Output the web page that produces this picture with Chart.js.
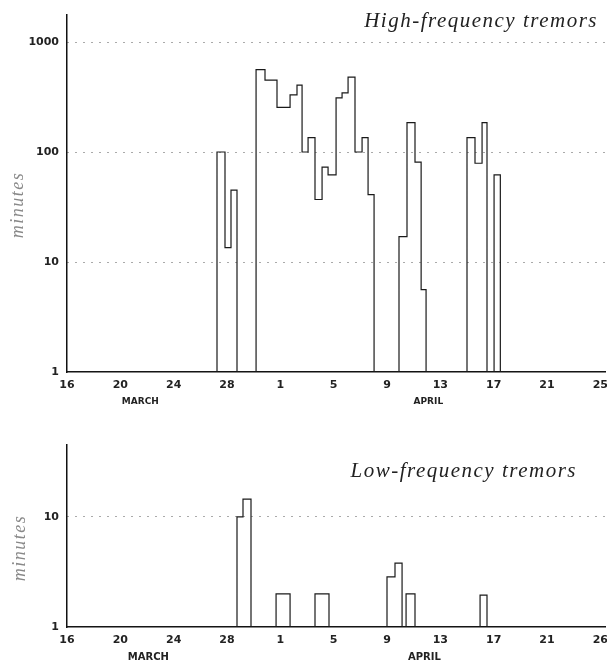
<!DOCTYPE html>
<html>
<head>
<meta charset="utf-8">
<script src="https://cdn.jsdelivr.net/npm/chart.js@4/dist/chart.umd.min.js"></script>
<style>
  html, body { margin: 0; padding: 0; background: #fff; }
  #wrap { position: relative; width: 607px; height: 666px; }
  canvas { position: absolute; left: 0; }
  #highChart { top: 0; }
  #lowChart { top: 415px; }
</style>
</head>
<body>
<div id="wrap">
  <canvas id="highChart" width="607" height="415"></canvas>
  <canvas id="lowChart" width="607" height="251"></canvas>
</div>
<script>
// Days are counted from 16 March (day 0) to 25 April (day 40)
const tickDays = [0, 4, 8, 12, 16, 20, 24, 28, 32, 36, 40];
const highTickLabels = ["16", "20", "24", "28", "1", "5", "9", "13", "17", "21", "25"];
const lowTickLabels = ["16", "20", "24", "28", "1", "5", "9", "13", "17", "21", "26"];
const monthNames = ["MARCH", "APRIL"];

// High-frequency tremors: each value holds from its day until the next day
const highDays = [0, 11.25, 11.85, 12.3, 12.75, 14.18, 14.85, 15.75, 16.73, 17.25,
  17.63, 18.08, 18.6, 19.13, 19.58, 20.18, 20.63, 21.08, 21.6, 22.13,
  22.58, 23.03, 24.9, 25.5, 26.1, 26.56, 26.93, 30.0, 30.6, 31.13,
  31.5, 32.03, 32.5, 40.35];
const highMinutes = [1, 100, 13.5, 45, 1, 560, 450, 255, 330, 405,
  100, 135, 37, 73, 62, 310, 345, 480, 100, 135,
  41, 1, 17, 185, 81, 5.6, 1, 135, 79, 185,
  1, 62, 1, 1];

// Low-frequency tremors
const lowDays = [0, 12.75, 13.2, 13.8, 15.68, 16.73, 18.6, 19.65, 24.0, 24.6,
  25.13, 25.43, 26.1, 30.98, 31.5, 40.35];
const lowMinutes = [1, 10, 14.5, 1, 2, 1, 2, 1, 2.85, 3.8,
  1, 2, 1, 1.95, 1, 1];

const highYTicks = [1, 10, 100, 1000];
const lowYTicks = [1, 10];

// Titles, month names and the axis name are drawn on top of the chart
const chartNotes = {
  id: "chartNotes",
  afterDraw(chart, args, opts) {
    const { ctx, chartArea, scales } = chart;
    ctx.save();
    ctx.fillStyle = "#222";
    ctx.font = opts.monthFont;
    ctx.textAlign = "center";
    ctx.textBaseline = "middle";
    monthNames.forEach((name, i) => {
      ctx.fillText(name, scales.x.getPixelForValue(opts.monthDays[i]), chartArea.bottom + 30);
    });

    ctx.font = "italic 21px 'Liberation Serif'";
    ctx.letterSpacing = "1.5px";
    ctx.textAlign = "right";
    ctx.textBaseline = "alphabetic";
    ctx.fillText(opts.title, chartArea.right - opts.titleInset, chartArea.top + opts.titleOffset);

    ctx.translate(opts.unitX, chartArea.top + opts.unitY);
    ctx.rotate(-Math.PI / 2);
    ctx.fillStyle = "#888";
    ctx.font = "italic 18px 'Liberation Serif'";
    ctx.textAlign = "center";
    ctx.textBaseline = "middle";
    ctx.fillText("minutes", 0, 0);
    ctx.restore();
  },
};

function makeChart(canvasId, days, minutes, yMax, yTicks, tickLabels, padding, notes) {
  const ctx = document.getElementById(canvasId).getContext("2d");
  const points = days.map((d, i) => ({ x: d, y: minutes[i] }));

  return new Chart(ctx, {
    type: "line",
    data: {
      datasets: [
        {
          data: points,
          stepped: true,
          borderColor: "#1a1a1a",
          borderWidth: 1.2,
          pointRadius: 0,
          fill: false,
        },
      ],
    },
    options: {
      responsive: false,
      animation: false,
      devicePixelRatio: 1,
      layout: { padding: padding },
      plugins: {
        legend: { display: false },
        tooltip: { enabled: false },
        chartNotes: notes,
      },
      scales: {
        x: {
          type: "linear",
          min: 0,
          max: 40.35,
          afterBuildTicks: (scale) => {
            scale.ticks = tickDays.map((v) => ({ value: v }));
          },
          afterFit: (scale) => {
            scale.height = 20;
            scale.paddingLeft = 0;
            scale.paddingRight = 0;
          },
          grid: { display: false, drawTicks: false },
          border: { display: true, color: "#111", width: 1.5 },
          ticks: {
            padding: 7,
            autoSkip: false,
            maxRotation: 0,
            color: "#222",
            font: { family: "DejaVu Sans", size: 11, weight: "bold" },
            callback: (value, index) => tickLabels[index],
          },
        },
        y: {
          type: "logarithmic",
          min: 1,
          max: yMax,
          afterBuildTicks: (scale) => {
            scale.ticks = yTicks.map((v) => ({ value: v }));
          },
          afterFit: (scale) => {
            scale.width = 67;
            scale.paddingTop = 0;
            scale.paddingBottom = 0;
          },
          grid: {
            drawTicks: false,
            lineWidth: 1,
            color: (c) => (c.tick && c.tick.value === 1 ? "rgba(0,0,0,0)" : "#555"),
          },
          border: { display: true, color: "#111", width: 1.5, dash: [1, 7] },
          ticks: {
            padding: 8,
            autoSkip: false,
            color: "#222",
            font: { family: "DejaVu Sans", size: 11, weight: "bold" },
            callback: (value) => String(value),
          },
        },
      },
    },
    plugins: [chartNotes],
  });
}

document.addEventListener("DOMContentLoaded", function () {
  makeChart("highChart", highDays, highMinutes, 1760, highYTicks, highTickLabels,
    { left: 0, right: 2, top: 15, bottom: 23 },
    {
      title: "High-frequency tremors",
      titleInset: 7,
      titleOffset: 12,
      monthDays: [5.5, 27.1],
      monthFont: "bold 9px 'DejaVu Sans'",
      unitX: 18,
      unitY: 190,
    });

  makeChart("lowChart", lowDays, lowMinutes, 45, lowYTicks, lowTickLabels,
    { left: 0, right: 2, top: 30, bottom: 19 },
    {
      title: "Low-frequency tremors",
      titleInset: 28,
      titleOffset: 32,
      monthDays: [6.1, 26.8],
      monthFont: "bold 10px 'DejaVu Sans'",
      unitX: 20,
      unitY: 103,
    });
});
</script>
</body>
</html>
